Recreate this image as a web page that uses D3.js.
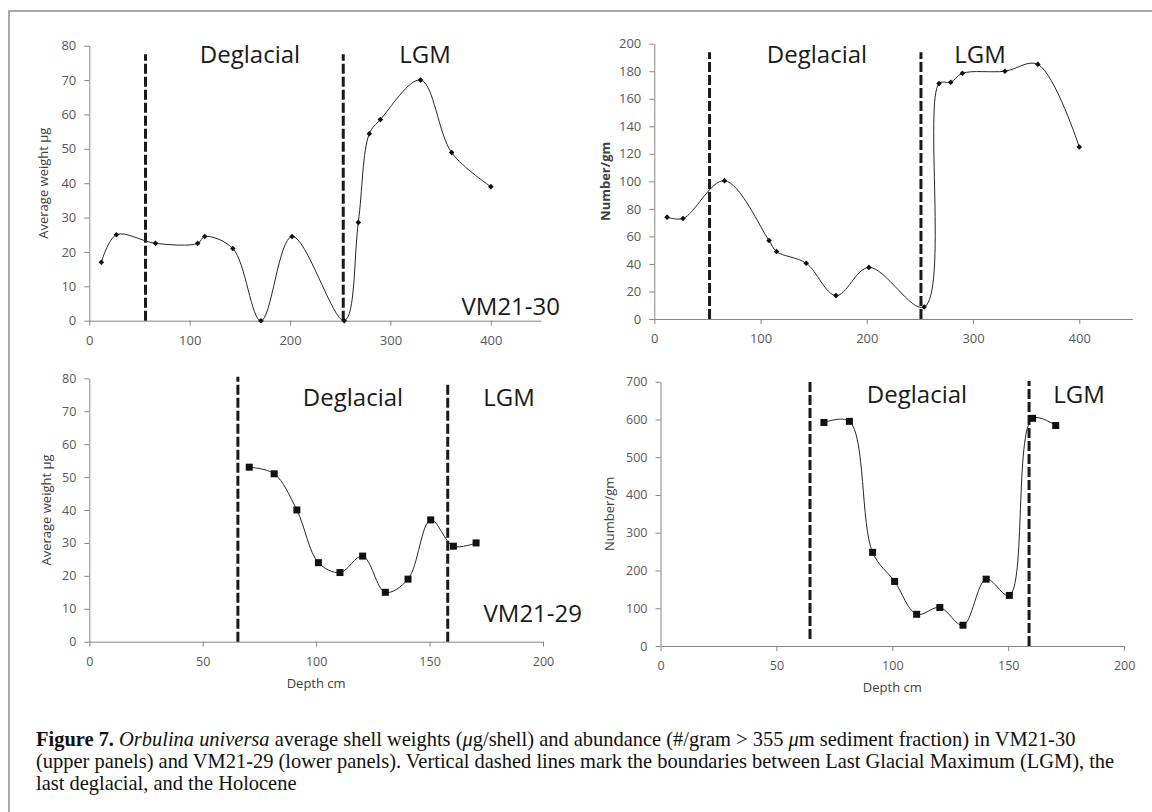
<!DOCTYPE html>
<html>
<head>
<meta charset="utf-8">
<script src="https://cdn.jsdelivr.net/npm/d3@7"></script>
<style>
body { margin: 0; background: #fff; }
svg { display: block; }
.tick text { font-family: "Open Sans", sans-serif; fill: #595959; }
.axis path, .axis line { stroke: #868686; }
</style>
</head>
<body>
<svg id="fig" width="1152" height="812"></svg>
<script>
// VM21-30 (upper panels)
var depth30 = [12, 27, 66, 108, 115, 143, 171, 202, 254, 268, 279, 290, 330, 361, 400];
var weight30 = [17, 25, 22.5, 22.5, 24.5, 21, 0, 24.5, 0, 28.6, 54.4, 58.5, 70, 48.9, 39];
var number30 = [74, 73, 100.5, 57, 49, 40.5, 17, 37.5, 8.7, 171, 172, 178.5, 180, 185, 125];

// VM21-29 (lower panels)
var depth29 = [70.5, 81.5, 91.5, 101, 110.5, 120.5, 130.5, 140.5, 150.5, 160.5, 170.5];
var weight29 = [53, 51, 40, 24, 21, 26, 15, 19, 37, 29, 30];
var number29 = [592, 595, 248, 171, 84, 102, 55, 177, 134, 603, 584];

// boundary depths (dashed lines) per panel
var bounds30w = [56, 253];
var bounds30n = [52, 251];
var bounds29w = [65.5, 158];
var bounds29n = [64.5, 159];

// tick labels
var xTicks30 = [0, 100, 200, 300, 400];
var xTicks29 = [0, 50, 100, 150, 200];
var yTicksWeight = [0, 10, 20, 30, 40, 50, 60, 70, 80];
var yTicksNum30 = [0, 20, 40, 60, 80, 100, 120, 140, 160, 180, 200];
var yTicksNum29 = [0, 100, 200, 300, 400, 500, 600, 700];

var svg = d3.select("#fig");

// figure frame (left and top edges)
svg.append("path")
    .attr("d", "M9,812V11H1152")
    .attr("fill", "none")
    .attr("stroke", "#8c8c8c")
    .attr("stroke-width", 1.5);

var panels = [
    {depth: depth30, vals: weight30, bounds: bounds30w, dashY: [[0, 77.5], [0, 77.5]],
     xDom: [0, 450], xR: [89.3, 541], yDom: [0, 80], yR: [320.7, 45.7],
     xTicks: xTicks30, yTicks: yTicksWeight, fs: 13,
     title: "Average weight µg", titleX: 43, bold: false, marker: "diamond",
     labY: 63.3, degX: 250, lgmX: 425, core: "VM21-30", coreX: 560, coreY: 315},
    {depth: depth30, vals: number30, bounds: bounds30n, dashY: [[0, 193.7], [0, 193.7]],
     xDom: [0, 450], xR: [654.3, 1132.4], yDom: [0, 200], yR: [319, 43.7],
     xTicks: xTicks30, yTicks: yTicksNum30, fs: 13,
     title: "Number/gm", titleX: 605, bold: true, marker: "diamond",
     labY: 63.3, degX: 817, lgmX: 980},
    {depth: depth29, vals: weight29, bounds: bounds29w, dashY: [[0, 80.5], [0, 78.8]],
     xDom: [0, 200], xR: [89.3, 543], yDom: [0, 80], yR: [641.7, 378.3],
     xTicks: xTicks29, yTicks: yTicksWeight, fs: 12.5,
     title: "Average weight µg", titleX: 46, bold: false, marker: "square",
     labY: 406, degX: 353, lgmX: 509, core: "VM21-29", coreX: 582, coreY: 621.7,
     depthLabel: 688},
    {depth: depth29, vals: number29, bounds: bounds29n, dashY: [[18.5, 700], [0, 702]],
     xDom: [0, 200], xR: [660.5, 1124.1], yDom: [0, 700], yR: [646, 381.7],
     xTicks: xTicks29, yTicks: yTicksNum29, fs: 12.5,
     title: "Number/gm", titleX: 609, bold: false, marker: "square",
     labY: 403.3, degX: 917, lgmX: 1079, depthLabel: 692}
];

panels.forEach(function (p) {
    var x = d3.scaleLinear().domain(p.xDom).range(p.xR);
    var y = d3.scaleLinear().domain(p.yDom).range(p.yR);
    var g = svg.append("g");

    // axes
    g.append("g")
        .attr("class", "axis")
        .attr("transform", "translate(0," + p.yR[0] + ")")
        .call(d3.axisBottom(x).tickValues(p.xTicks).tickSize(5).tickSizeOuter(0).tickPadding(10));
    g.append("g")
        .attr("class", "axis")
        .attr("transform", "translate(" + p.xR[0] + ",0)")
        .call(d3.axisLeft(y).tickValues(p.yTicks).tickSize(5).tickSizeOuter(0).tickPadding(8));
    g.selectAll(".tick text").style("font-size", p.fs + "px");

    // boundary lines
    p.bounds.forEach(function (b, i) {
        g.append("line")
            .attr("x1", x(b)).attr("x2", x(b))
            .attr("y1", y(p.dashY[i][0])).attr("y2", y(p.dashY[i][1]))
            .attr("stroke", "#1a1a1a")
            .attr("stroke-width", 3)
            .attr("stroke-dasharray", "10,3");
    });

    // smoothed series line
    var pts = p.depth.map(function (d, i) { return [d, p.vals[i]]; });
    var line = d3.line()
        .x(function (d) { return x(d[0]); })
        .y(function (d) { return y(d[1]); })
        .curve(d3.curveCatmullRom.alpha(0.5));
    g.append("path")
        .datum(pts)
        .attr("d", line)
        .attr("fill", "none")
        .attr("stroke", "#262626")
        .attr("stroke-width", 1);

    // markers
    if (p.marker == "diamond") {
        g.selectAll(".pt").data(pts).enter().append("path")
            .attr("transform", function (d) { return "translate(" + x(d[0]) + "," + y(d[1]) + ")"; })
            .attr("d", "M0,-2.8L2.8,0L0,2.8L-2.8,0Z")
            .attr("fill", "#111");
    } else {
        g.selectAll(".pt").data(pts).enter().append("rect")
            .attr("x", function (d) { return x(d[0]) - 3.5; })
            .attr("y", function (d) { return y(d[1]) - 3.5; })
            .attr("width", 7).attr("height", 7)
            .attr("fill", "#111");
    }

    // y title
    g.append("text")
        .attr("transform", "translate(" + p.titleX + "," + ((p.yR[0] + p.yR[1]) / 2) + ") rotate(-90)")
        .attr("text-anchor", "middle")
        .attr("dy", "0.35em")
        .style("font-family", "'Open Sans', sans-serif")
        .style("font-size", "13px")
        .style("font-weight", p.bold ? "bold" : "normal")
        .attr("fill", "#404040")
        .text(p.title);

    // period labels
    [["Deglacial", p.degX], ["LGM", p.lgmX]].forEach(function (t) {
        g.append("text")
            .attr("x", t[1]).attr("y", p.labY)
            .attr("text-anchor", "middle")
            .style("font-family", "'Open Sans', sans-serif")
            .style("font-size", "24px")
            .attr("fill", "#1a1a1a")
            .text(t[0]);
    });

    if (p.core) {
        g.append("text")
            .attr("x", p.coreX).attr("y", p.coreY)
            .attr("text-anchor", "end")
            .style("font-family", "'Open Sans', sans-serif")
            .style("font-size", "24px")
            .attr("fill", "#1a1a1a")
            .text(p.core);
    }

    if (p.depthLabel) {
        g.append("text")
            .attr("x", x(100)).attr("y", p.depthLabel)
            .attr("text-anchor", "middle")
            .style("font-family", "'Open Sans', sans-serif")
            .style("font-size", "13px")
            .attr("fill", "#404040")
            .text("Depth cm");
    }
});

// caption
var capLines = [
    [["Figure 7.", "bold"], [" ", ""], ["Orbulina universa", "italic"],
     [" average shell weights (", ""], ["μ", "italic"], ["g/shell) and abundance (#/gram > 355 ", ""],
     ["μ", "italic"], ["m sediment fraction) in VM21-30", ""]],
    [["(upper panels) and VM21-29 (lower panels). Vertical dashed lines mark the boundaries between Last Glacial Maximum (LGM), the", ""]],
    [["last deglacial, and the Holocene", ""]]
];
var capY = [746, 768, 790];
var cap = svg.append("g")
    .style("font-family", "'Liberation Serif', 'Times New Roman', serif")
    .style("font-size", "18px")
    .attr("fill", "#111");
var capTexts = capLines.map(function (ln, i) {
    var t = cap.append("text").attr("x", 36).attr("y", capY[i]);
    ln.forEach(function (s) {
        var ts = t.append("tspan").text(s[0]);
        if (s[1] == "bold") ts.style("font-weight", "bold");
        if (s[1] == "italic") ts.style("font-style", "italic");
    });
    return t;
});
// fit caption width to the first line's span
var w = capTexts[0].node().getComputedTextLength();
cap.style("font-size", (18 * 1040 / w) + "px");
</script>
</body>
</html>
